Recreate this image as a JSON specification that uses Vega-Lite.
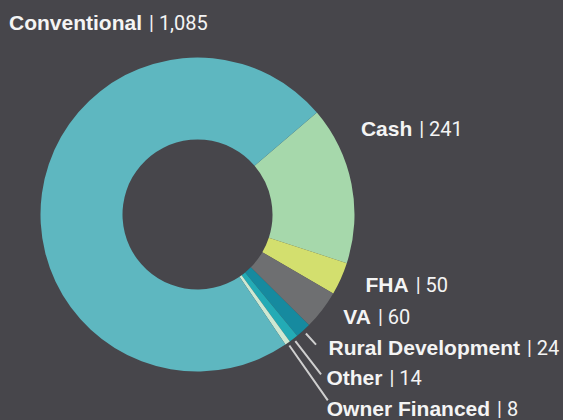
{
  "$schema": "https://vega.github.io/schema/vega-lite/v6.json",
  "width": 395,
  "height": 411,
  "autosize": "none",
  "padding": {"left": 0, "top": 9, "right": 168, "bottom": 0},
  "background": "#47464b",
  "view": {"stroke": null},
  "config": {"text": {"fill": "#f4f4f4", "baseline": "middle", "fontSize": 21}},
  "data": {
    "values": [
      {"type": "Cash", "count": 241, "order": 1, "value_label": "| 241"},
      {"type": "FHA", "count": 50, "order": 2, "value_label": "| 50"},
      {"type": "VA", "count": 60, "order": 3, "value_label": "| 60"},
      {"type": "Rural Development", "count": 24, "order": 4, "value_label": "| 24"},
      {"type": "Other", "count": 14, "order": 5, "value_label": "| 14"},
      {"type": "Owner Financed", "count": 8, "order": 6, "value_label": "| 8"},
      {"type": "Conventional", "count": 1085, "order": 7, "value_label": "| 1,085"}
    ]
  },
  "encoding": {
    "theta": {"field": "count", "type": "quantitative", "stack": true, "scale": {"domain": [0, 1482], "range": [0.864, 7.147], "nice": false}},
    "order": {"field": "order", "type": "quantitative"}
  },
  "layer": [
    {
      "mark": {"type": "arc", "outerRadius": 157, "innerRadius": 75},
      "encoding": {
        "color": {"field": "type", "type": "nominal", "legend": null,
          "scale": {"domain": ["Cash", "FHA", "VA", "Rural Development", "Other", "Owner Financed", "Conventional"],
                    "range": ["#a6d8ab", "#d3df6e", "#6e6f71", "#168a9f", "#23abb5", "#cfe8d2", "#5eb7c0"]}}
      }
    },
    {
      "mark": {"type": "arc", "outerRadius": 176, "innerRadius": 161, "padAngle": 1, "filled": false, "stroke": "#cfcfcf", "strokeWidth": 2},
      "encoding": {"opacity": {"condition": {"test": "datum.type === 'Rural Development'", "value": 1}, "value": 0}}
    },
    {
      "mark": {"type": "arc", "outerRadius": 202, "innerRadius": 160, "padAngle": 1, "filled": false, "stroke": "#cfcfcf", "strokeWidth": 2},
      "encoding": {"opacity": {"condition": {"test": "datum.type === 'Other'", "value": 1}, "value": 0}}
    },
    {
      "mark": {"type": "arc", "outerRadius": 227, "innerRadius": 160, "padAngle": 1, "filled": false, "stroke": "#cfcfcf", "strokeWidth": 2},
      "encoding": {"opacity": {"condition": {"test": "datum.type === 'Owner Financed'", "value": 1}, "value": 0}}
    },
    {
      "mark": {"type": "text", "radius": 170, "dx": 113, "dy": -168, "align": "right", "font": "Liberation Sans", "fontWeight": "bold"},
      "encoding": {"text": {"condition": {"test": "datum.type === 'Conventional'", "field": "type", "type": "nominal"}, "value": ""}}
    },
    {
      "mark": {"type": "text", "radius": 170, "dx": 120, "dy": -168, "align": "left", "font": "Roboto", "fontSize": 20},
      "encoding": {"text": {"condition": {"test": "datum.type === 'Conventional'", "field": "value_label", "type": "nominal"}, "value": ""}}
    },
    {
      "mark": {"type": "text", "radius": 170, "dx": 48, "dy": -51.5, "align": "right", "font": "Liberation Sans", "fontWeight": "bold"},
      "encoding": {"text": {"condition": {"test": "datum.type === 'Cash'", "field": "type", "type": "nominal"}, "value": ""}}
    },
    {
      "mark": {"type": "text", "radius": 170, "dx": 55, "dy": -51.5, "align": "left", "font": "Roboto", "fontSize": 20},
      "encoding": {"text": {"condition": {"test": "datum.type === 'Cash'", "field": "value_label", "type": "nominal"}, "value": ""}}
    },
    {
      "mark": {"type": "text", "radius": 170, "dx": 56, "dy": 2, "align": "right", "font": "Liberation Sans", "fontWeight": "bold"},
      "encoding": {"text": {"condition": {"test": "datum.type === 'FHA'", "field": "type", "type": "nominal"}, "value": ""}}
    },
    {
      "mark": {"type": "text", "radius": 170, "dx": 63, "dy": 2, "align": "left", "font": "Roboto", "fontSize": 20},
      "encoding": {"text": {"condition": {"test": "datum.type === 'FHA'", "field": "value_label", "type": "nominal"}, "value": ""}}
    },
    {
      "mark": {"type": "text", "radius": 170, "dx": 38.5, "dy": 0, "align": "right", "font": "Liberation Sans", "fontWeight": "bold"},
      "encoding": {"text": {"condition": {"test": "datum.type === 'VA'", "field": "type", "type": "nominal"}, "value": ""}}
    },
    {
      "mark": {"type": "text", "radius": 170, "dx": 45.5, "dy": 0, "align": "left", "font": "Roboto", "fontSize": 20},
      "encoding": {"text": {"condition": {"test": "datum.type === 'VA'", "field": "value_label", "type": "nominal"}, "value": ""}}
    },
    {
      "mark": {"type": "text", "radius": 170, "dx": 208, "dy": 9, "align": "right", "font": "Liberation Sans", "fontWeight": "bold"},
      "encoding": {"text": {"condition": {"test": "datum.type === 'Rural Development'", "field": "type", "type": "nominal"}, "value": ""}}
    },
    {
      "mark": {"type": "text", "radius": 170, "dx": 215, "dy": 9, "align": "left", "font": "Roboto", "fontSize": 20},
      "encoding": {"text": {"condition": {"test": "datum.type === 'Rural Development'", "field": "value_label", "type": "nominal"}, "value": ""}}
    },
    {
      "mark": {"type": "text", "radius": 170, "dx": 81, "dy": 30, "align": "right", "font": "Liberation Sans", "fontWeight": "bold"},
      "encoding": {"text": {"condition": {"test": "datum.type === 'Other'", "field": "type", "type": "nominal"}, "value": ""}}
    },
    {
      "mark": {"type": "text", "radius": 170, "dx": 88, "dy": 30, "align": "left", "font": "Roboto", "fontSize": 20},
      "encoding": {"text": {"condition": {"test": "datum.type === 'Other'", "field": "value_label", "type": "nominal"}, "value": ""}}
    },
    {
      "mark": {"type": "text", "radius": 170, "dx": 195, "dy": 56, "align": "right", "font": "Liberation Sans", "fontWeight": "bold"},
      "encoding": {"text": {"condition": {"test": "datum.type === 'Owner Financed'", "field": "type", "type": "nominal"}, "value": ""}}
    },
    {
      "mark": {"type": "text", "radius": 170, "dx": 202, "dy": 56, "align": "left", "font": "Roboto", "fontSize": 20},
      "encoding": {"text": {"condition": {"test": "datum.type === 'Owner Financed'", "field": "value_label", "type": "nominal"}, "value": ""}}
    }
  ]
}
